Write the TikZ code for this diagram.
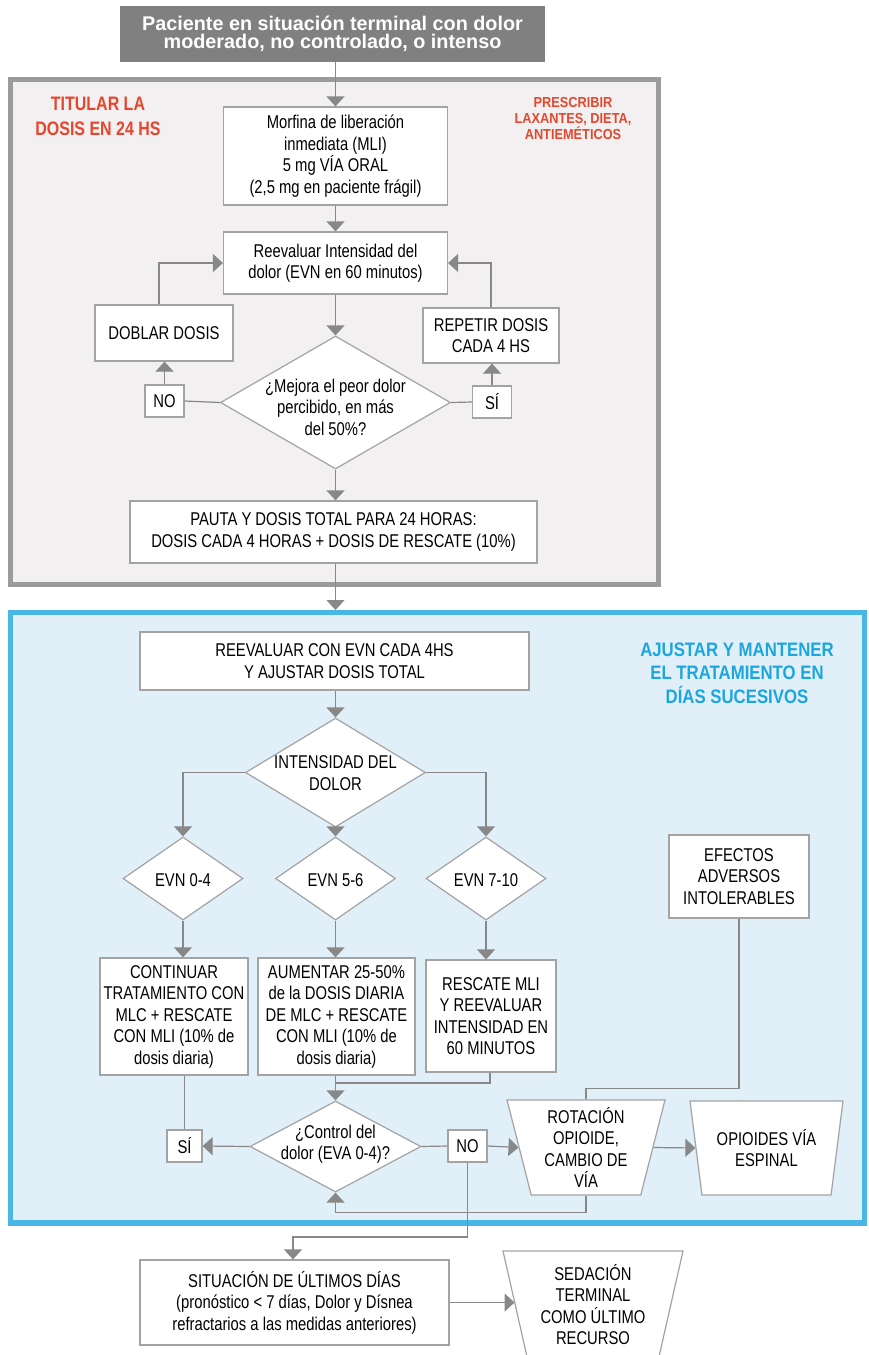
\documentclass[tikz,border=0pt]{standalone}
\usepackage{fontspec}
\setmainfont{Liberation Sans}[FakeStretch=0.8]
\newfontfamily\topfont{Liberation Sans}
\newfontfamily\redfont{Liberation Sans}[FakeStretch=0.82]
\newfontfamily\smallredfont{Liberation Sans}[FakeStretch=0.88]
\newfontfamily\bluefont{Liberation Sans}[FakeStretch=0.86]
\usetikzlibrary{shapes.geometric,arrows.meta}
\definecolor{framegray}{HTML}{9B9B9B}
\definecolor{framefill}{HTML}{F2F0F1}
\definecolor{blueframe}{HTML}{48B7E6}
\definecolor{bluefill}{HTML}{E1EFF9}
\definecolor{titlered}{HTML}{E5472E}
\definecolor{titleblue}{HTML}{1BA6DE}
\definecolor{topgray}{HTML}{808080}
\definecolor{linegray}{HTML}{888888}
\definecolor{boxgray}{HTML}{A3A3A3}
\begin{document}
\begin{tikzpicture}[x=1pt,y=-1pt,
 box/.style={draw=boxgray,line width=1.2pt,fill=white,align=center,inner sep=0pt,font=\fontsize{18.5}{21.5}\selectfont},
 dia/.style={diamond,draw=boxgray,line width=1.2pt,fill=white,inner sep=0pt},
 trap/.style={trapezium,shape border rotate=180,trapezium left angle=74,trapezium right angle=74,trapezium stretches body=true,draw=boxgray,line width=1.2pt,fill=white,align=center,inner sep=2pt,font=\fontsize{18.5}{21.5}\selectfont},
 txt/.style={align=center,inner sep=0pt,font=\fontsize{18.5}{21.5}\selectfont},
 conn/.style={draw=linegray,line width=1.2pt},
 arr/.style={conn,-{Triangle[width=18pt,length=10pt]}},
]
\useasboundingbox (0,0) rectangle (868,1355);
\clip (0,0) rectangle (868,1355);
\fill[white] (0,0) rectangle (868,1355);

% frames
\draw[draw=framegray,fill=framefill,line width=5pt] (10,79.5) rectangle (658,584.5);
\draw[draw=blueframe,fill=bluefill,line width=5.5pt] (10.5,612.5) rectangle (864.5,1223);
\coordinate (bluetop) at (335.5,610);

% top section
\node[fill=topgray,minimum width=425pt,minimum height=56pt,inner sep=0pt,align=center,text=white,font=\topfont\bfseries\fontsize{19.8}{18.5}\selectfont] (top) at (332.5,34) {Paciente en situación terminal con dolor\\moderado, no controlado, o intenso};
\node[text=titlered,align=center,inner sep=0pt,font=\redfont\bfseries\fontsize{19.5}{25}\selectfont] (t1) at (98,116.5) {TITULAR LA\\DOSIS EN 24 HS};
\node[text=titlered,align=center,inner sep=0pt,font=\smallredfont\bfseries\fontsize{14.5}{15.7}\selectfont] (t2) at (573,118.5) {PRESCRIBIR\\LAXANTES, DIETA,\\ANTIEMÉTICOS};
\node[box,minimum width=224pt,minimum height=98pt] (mli) at (335.5,156) {Morfina de liberación\\inmediata (MLI)\\5 mg VÍA ORAL\\(2,5 mg en paciente frágil)};
\node[box,minimum width=224pt,minimum height=62pt] (reev) at (335.5,263) {Reevaluar Intensidad del\\dolor (EVN en 60 minutos)};
\node[box,minimum width=138pt,minimum height=56pt] (doblar) at (164,333) {DOBLAR DOSIS};
\node[box,minimum width=136pt,minimum height=55pt] (repetir) at (491,335.5) {REPETIR DOSIS\\CADA 4 HS};
\node[dia,minimum width=230pt,minimum height=133pt] (q1) at (335.5,402.5) {};
\node[txt] (q1t) at (335.5,407) {¿Mejora el peor dolor\\percibido, en más\\del 50\%?};
\node[box,minimum width=39pt,minimum height=32pt] (no1) at (164.5,401) {NO};
\node[box,minimum width=39pt,minimum height=32pt] (si1) at (492,402) {SÍ};
\node[box,minimum width=407pt,minimum height=62pt] (pauta) at (333.5,532) {PAUTA Y DOSIS TOTAL PARA 24 HORAS:\\DOSIS CADA 4 HORAS + DOSIS DE RESCATE (10\%)};

% blue section
\node[text=titleblue,align=center,inner sep=0pt,font=\bluefont\bfseries\fontsize{19.5}{23.5}\selectfont] (t3) at (737,673) {AJUSTAR Y MANTENER\\EL TRATAMIENTO EN\\DÍAS SUCESIVOS};
\node[box,minimum width=389pt,minimum height=58pt] (reev2) at (334.5,661) {REEVALUAR CON EVN CADA 4HS\\Y AJUSTAR DOSIS TOTAL};
\node[dia,minimum width=180pt,minimum height=109pt] (q2) at (335.5,772.5) {};
\node[txt] (q2t) at (335.5,773) {INTENSIDAD DEL\\DOLOR};
\node[dia,minimum width=120pt,minimum height=83pt] (e04) at (183,878.5) {};
\node[txt] (e04t) at (183,880) {EVN 0-4};
\node[dia,minimum width=120pt,minimum height=83pt] (e56) at (335.5,878.5) {};
\node[txt] (e56t) at (335.5,880) {EVN 5-6};
\node[dia,minimum width=120pt,minimum height=83pt] (e710) at (486,878.5) {};
\node[txt] (e710t) at (486,880) {EVN 7-10};
\node[box,minimum width=148pt,minimum height=117pt] (cont) at (174,1016.5) {CONTINUAR\\TRATAMIENTO CON\\MLC + RESCATE\\CON MLI (10\% de\\dosis diaria)};
\node[box,minimum width=157pt,minimum height=117pt] (aum) at (336.5,1016.5) {AUMENTAR 25-50\%\\de la DOSIS DIARIA\\DE MLC + RESCATE\\CON MLI (10\% de\\dosis diaria)};
\node[box,minimum width=130pt,minimum height=112pt] (resc) at (491,1016) {RESCATE MLI\\Y REEVALUAR\\INTENSIDAD EN\\60 MINUTOS};
\node[box,minimum width=140pt,minimum height=83pt] (efe) at (739,876.5) {EFECTOS\\ADVERSOS\\INTOLERABLES};
\node[dia,minimum width=171pt,minimum height=91pt] (q3) at (335.5,1146.5) {};
\node[txt] (q3t) at (335.5,1144) {¿Control del\\dolor (EVA 0-4)?};
\node[box,minimum width=35pt,minimum height=32pt] (si2) at (184.5,1146) {SÍ};
\node[box,minimum width=39pt,minimum height=32pt] (no2) at (467.5,1146) {NO};
\node[trap,minimum width=158pt,minimum height=95pt] (rot) at (586,1147.5) {ROTACIÓN\\OPIOIDE,\\CAMBIO DE\\VÍA};
\node[trap,minimum width=153pt,minimum height=94pt] (opi) at (766.5,1148) {OPIOIDES VÍA\\ESPINAL};

% bottom
\node[box,minimum width=309pt,minimum height=85pt] (sit) at (294.5,1302.5) {SITUACIÓN DE ÚLTIMOS DÍAS\\(pronóstico < 7 días, Dolor y Dísnea\\refractarios a las medidas anteriores)};
\node[trap,minimum width=180pt,minimum height=107pt] (sed) at (593,1304.5) {SEDACIÓN\\TERMINAL\\COMO ÚLTIMO\\RECURSO};

% connectors top section
\draw[arr] (top.south -| mli.north) -- (mli.north);
\draw[arr] (mli.south) -- (reev.north);
\draw[arr] ([xshift=-5pt]doblar.north) |- (reev.west);
\draw[arr] (repetir.north) |- (reev.east);
\draw[arr] (reev.south) -- (q1.north);
\draw[conn] (q1.west) -- (no1.east);
\draw[arr] (no1.north) -- (no1.north |- doblar.south);
\draw[conn] (q1.east) -- (si1.west);
\draw[arr] (si1.north) -- (si1.north |- repetir.south);
\draw[arr] (q1.south) -- (q1.south |- pauta.north);
\draw[arr] (q1.south |- pauta.south) -- (bluetop);

% connectors blue section
\draw[arr] (reev2.south -| q2.north) -- (q2.north);
\draw[arr] (q2.west) -| (e04.north);
\draw[arr] (q2.south) -- (e56.north);
\draw[arr] (q2.east) -| (e710.north);
\draw[arr] (e04.south) -- (e04.south |- cont.north);
\draw[arr] (e56.south) -- (e56.south |- aum.north);
\draw[arr] (e710.south) -- (e710.south |- resc.north);
\draw[arr] (aum.south -| q3.north) -- (q3.north);
\coordinate (j1) at (335.5,1083);
\draw[conn] ([xshift=-1pt]resc.south) |- (j1);
\draw[conn] (efe.south) |- ([yshift=11pt]rot.north) -- (rot.north);
\draw[conn] (si2.north |- cont.south) -- (si2.north);
\draw[arr] (q3.west) -- (si2.east);
\draw[conn] (q3.east) -- (no2.west);
\draw[arr] (no2.east) -- (rot.west);
\draw[arr] (rot.east) -- (opi.west);
\draw[arr] (rot.south) -- ++(0,17) -| (q3.south);
\coordinate (k) at (293,1237);
\draw[arr] (no2.south) |- (k) -- (k |- sit.north);
\draw[arr] (sit.east) -- (sit.east -| sed.west);
\end{tikzpicture}
\end{document}
